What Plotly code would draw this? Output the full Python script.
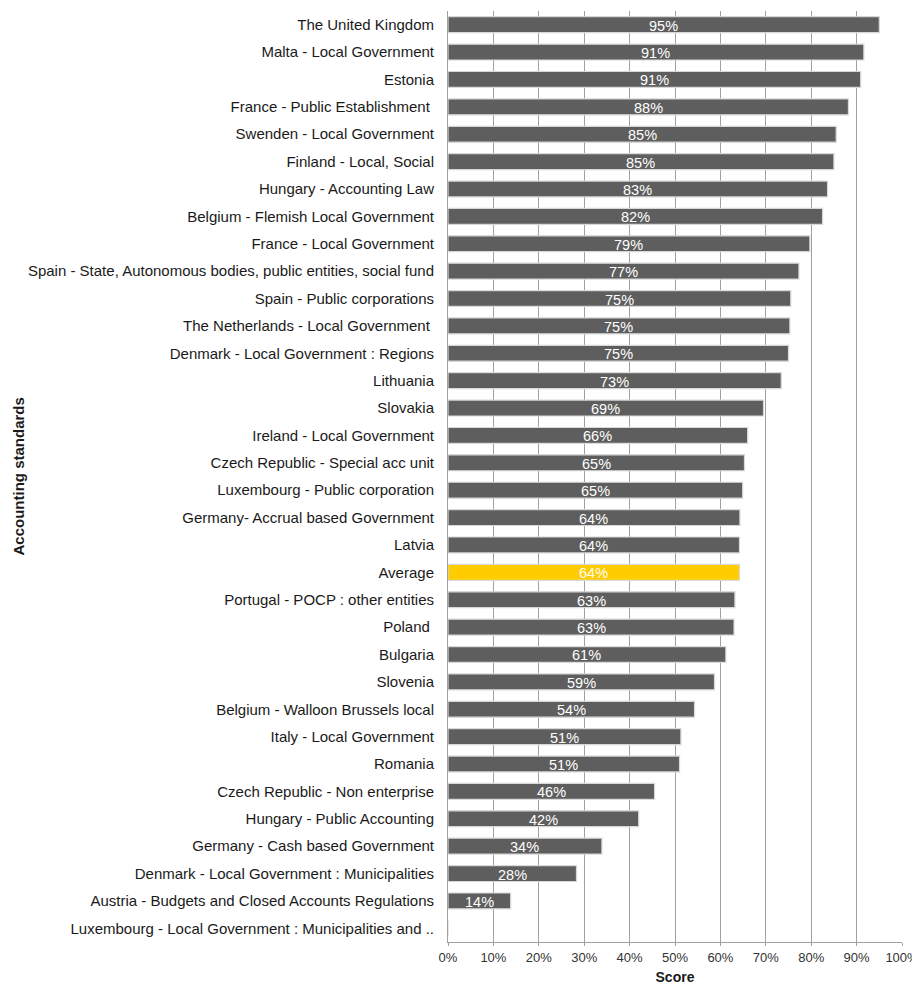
import plotly.graph_objects as go

categories = [
    "The United Kingdom",
    "Malta - Local Government",
    "Estonia",
    "France - Public Establishment ",
    "Swenden - Local Government",
    "Finland - Local, Social",
    "Hungary - Accounting Law",
    "Belgium - Flemish Local Government",
    "France - Local Government",
    "Spain - State, Autonomous bodies, public entities, social fund",
    "Spain - Public corporations",
    "The Netherlands - Local Government ",
    "Denmark - Local Government : Regions",
    "Lithuania",
    "Slovakia",
    "Ireland - Local Government",
    "Czech Republic - Special acc unit",
    "Luxembourg - Public corporation",
    "Germany- Accrual based Government",
    "Latvia",
    "Average",
    "Portugal - POCP : other entities",
    "Poland ",
    "Bulgaria",
    "Slovenia",
    "Belgium - Walloon Brussels local",
    "Italy - Local Government",
    "Romania",
    "Czech Republic - Non enterprise",
    "Hungary - Public Accounting",
    "Germany - Cash based Government",
    "Denmark - Local Government : Municipalities",
    "Austria - Budgets and Closed Accounts Regulations",
    "Luxembourg - Local Government : Municipalities and ..",
]

scores = [
    95.0, 91.6, 90.9, 88.2, 85.5, 85.0, 83.6, 82.5, 79.7, 77.3,
    75.5, 75.3, 75.0, 73.4, 69.5, 66.0, 65.3, 64.9, 64.3, 64.2,
    64.2, 63.2, 63.0, 61.2, 58.7, 54.3, 51.3, 51.0, 45.5, 42.0,
    33.9, 28.3, 13.8, 0.0,
]

labels = [
    "95%", "91%", "91%", "88%", "85%", "85%", "83%", "82%", "79%", "77%",
    "75%", "75%", "75%", "73%", "69%", "66%", "65%", "65%", "64%", "64%",
    "64%", "63%", "63%", "61%", "59%", "54%", "51%", "51%", "46%", "42%",
    "34%", "28%", "14%", "",
]

x_ticks = [0, 10, 20, 30, 40, 50, 60, 70, 80, 90, 100]
x_tick_labels = ["0%", "10%", "20%", "30%", "40%", "50%", "60%", "70%", "80%", "90%", "100%"]

bar_colors = ["#ffcc00" if c == "Average" else "#5e5e5e" for c in categories]

FONT = "Liberation Sans, Arial, sans-serif"

fig = go.Figure()
fig.add_trace(
    go.Bar(
        x=scores,
        y=categories,
        orientation="h",
        marker=dict(color=bar_colors, line=dict(color="#d8d8d8", width=1.2)),
        hoverinfo="x+y",
    )
)

# value labels centred in each bar (placed at half the bar length on the data axis)
for cat, s, lab in zip(categories, scores, labels):
    if lab:
        fig.add_annotation(
            x=s / 2, y=cat, xref="x", yref="y",
            text=lab, showarrow=False,
            xanchor="center", yanchor="middle", yshift=-1,
            font=dict(color="#ffffff", size=14.5, family=FONT),
        )

# The page body has an 8px margin, so the figure is sized 8px smaller.
fig.update_layout(
    width=912,
    height=982,
    margin=dict(l=440, r=18, t=3, b=48),
    paper_bgcolor="#ffffff",
    plot_bgcolor="#ffffff",
    bargap=0.42,
    showlegend=False,
    font=dict(family=FONT, size=15, color="#1a1a1a"),
)

fig.update_xaxes(
    range=[0, 100],
    tickvals=x_ticks,
    ticktext=x_tick_labels,
    showgrid=True,
    gridcolor="#a0a0a0",
    gridwidth=1,
    showline=True,
    linecolor="#a0a0a0",
    linewidth=1,
    ticks="outside",
    ticklen=3,
    tickcolor="#a0a0a0",
    tickfont=dict(size=13, color="#333333"),
    title=dict(text="<b>Score</b>", font=dict(size=14, color="#1a1a1a"), standoff=8),
    zeroline=False,
    automargin=False,
    fixedrange=True,
)

fig.update_yaxes(
    range=[len(categories) - 0.5, -0.5],
    showgrid=False,
    showline=True,
    linecolor="#a0a0a0",
    linewidth=1,
    ticks="",
    ticklabelstandoff=10,
    tickfont=dict(size=15, color="#1a1a1a"),
    automargin=False,
    fixedrange=True,
)

fig.add_annotation(
    text="<b>Accounting standards</b>",
    xref="paper", yref="paper",
    x=(10 - 440) / 454, y=0.5,
    xanchor="center", yanchor="middle",
    textangle=-90, showarrow=False,
    font=dict(size=15, color="#1a1a1a"),
)

fig.write_html("out.html")
